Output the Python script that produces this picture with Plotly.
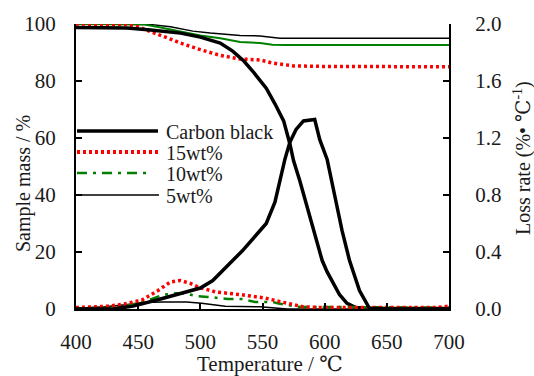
import plotly.graph_objects as go

# ---- data ----
cb_mass_T = [400, 420, 441, 460, 484, 500, 516, 526, 535, 542, 553, 560, 567, 572, 575, 580, 585, 590, 595, 598, 602, 606, 612, 618, 625, 640, 700]
cb_mass = [98.8, 98.6, 98.6, 97.9, 96.8, 95.4, 93.3, 90.5, 87, 83.5, 77.5, 72, 66, 58, 52, 45, 37, 29.5, 21, 17, 13, 10, 5, 2, 0.5, 0.2, 0.2]

cb_rate_T = [400, 430, 435, 446, 468, 484, 500, 510, 516, 526, 534, 540, 553, 560, 568, 572, 577, 583, 592, 596, 602, 608, 614, 620, 628, 636, 650, 700]
cb_rate = [0, 0, 0.007, 0.02, 0.07, 0.11, 0.147, 0.2, 0.25, 0.34, 0.41, 0.47, 0.6, 0.75, 1.05, 1.17, 1.26, 1.32, 1.33, 1.19, 1.05, 0.8, 0.55, 0.34, 0.13, 0.005, 0, 0]

w15_mass_T = [400, 440, 450, 460, 468, 476, 484, 500, 516, 532, 548, 558, 575, 600, 700]
w15_mass = [100, 99.8, 99, 97.5, 96, 94.7, 93.3, 91, 89, 87.7, 87.4, 86.3, 85.3, 85.1, 85]

w10_mass_T = [400, 455, 465, 476, 488, 500, 516, 532, 548, 558, 570, 700]
w10_mass = [100, 99.8, 99, 98, 97, 96, 95, 93.7, 93.3, 92.7, 92.6, 92.6]

w5_mass_T = [400, 460, 476, 494, 508, 532, 548, 558, 564, 700]
w5_mass = [100, 99.8, 99, 97.5, 96.8, 96, 95.8, 95.4, 95, 95]

w15_rate_T = [400, 426, 439, 453, 466, 476, 484, 492, 498, 512, 533, 552, 565, 575, 583, 600, 690, 700]
w15_rate = [0.01, 0.02, 0.035, 0.063, 0.13, 0.19, 0.2, 0.18, 0.155, 0.12, 0.1, 0.077, 0.05, 0.03, 0.015, 0.01, 0.01, 0.02]

w10_rate_T = [400, 435, 447, 461, 470, 480, 488, 497, 506, 522, 533, 544, 558, 562, 578, 700]
w10_rate = [0.005, 0.01, 0.035, 0.07, 0.1, 0.11, 0.11, 0.09, 0.085, 0.07, 0.07, 0.05, 0.05, 0.04, 0.015, 0.01]

w5_rate_T = [400, 423, 440, 453, 470, 489, 501, 510, 520, 548, 560, 570, 700]
w5_rate = [0.005, 0.015, 0.03, 0.045, 0.05, 0.05, 0.04, 0.03, 0.02, 0.015, 0.005, 0.0, 0.0]

legend_names = ["Carbon black", "15wt%", "10wt%", "5wt%"]
x_ticks = [400, 450, 500, 550, 600, 650, 700]

FONT = "Liberation Serif, Times New Roman, Times, DejaVu Serif, serif"
TXT = "#1a1a1a"
RED = "#ff0000"
GREEN = "#008000"

fig = go.Figure()

# rate curves (right axis)
fig.add_trace(go.Scatter(x=w5_rate_T, y=w5_rate, yaxis="y2", mode="lines",
                         line=dict(color="black", width=1.5), showlegend=False))
fig.add_trace(go.Scatter(x=w10_rate_T, y=w10_rate, yaxis="y2", mode="lines",
                         line=dict(color=GREEN, width=2.5, dash="10px,6px,3px,6px"), showlegend=False))
fig.add_trace(go.Scatter(x=w15_rate_T, y=w15_rate, yaxis="y2", mode="lines",
                         line=dict(color=RED, width=3.5, dash="3px,3px"), showlegend=False))
# mass curves (left axis)
fig.add_trace(go.Scatter(x=w5_mass_T, y=w5_mass, mode="lines",
                         line=dict(color="black", width=1.5), showlegend=False))
fig.add_trace(go.Scatter(x=w10_mass_T, y=w10_mass, mode="lines",
                         line=dict(color=GREEN, width=2), showlegend=False))
fig.add_trace(go.Scatter(x=w15_mass_T, y=w15_mass, mode="lines",
                         line=dict(color=RED, width=3.5, dash="3px,3px"), showlegend=False))
# carbon black
fig.add_trace(go.Scatter(x=cb_rate_T, y=cb_rate, yaxis="y2", mode="lines",
                         line=dict(color="black", width=3.5), showlegend=False))
fig.add_trace(go.Scatter(x=cb_mass_T, y=cb_mass, mode="lines",
                         line=dict(color="black", width=3.5), showlegend=False))

# plot area geometry
L, R, T, B = 76, 85, 24, 67
W, H = 534, 376
pw, ph = W - L - R, H - T - B

def px(xp):
    return (xp - L) / pw

def py(yp):
    return (H - B - yp) / ph

# manual legend
leg_styles = [
    dict(color="black", width=3.5),
    dict(color=RED, width=4, dash="3px,3px"),
    dict(color=GREEN, width=2.5, dash="10px,6px,3px,6px"),
    dict(color="black", width=1.5),
]
leg_y = [131, 152, 173, 195]
leg_x1 = [158, 160, 150, 159]
shapes = []
annotations = []
for name, st, yy, x1 in zip(legend_names, leg_styles, leg_y, leg_x1):
    shapes.append(dict(type="line", xref="paper", yref="paper",
                       x0=px(77), x1=px(x1), y0=py(yy), y1=py(yy), line=st))
    annotations.append(dict(text=name, xref="paper", yref="paper", x=px(164), y=py(yy + 1),
                            xanchor="left", yanchor="middle", showarrow=False,
                            font=dict(family=FONT, size=20, color=TXT)))

# axis titles
annotations.append(dict(text="Temperature / ℃", xref="paper", yref="paper",
                        x=px(270), y=py(364), xanchor="center", yanchor="middle", showarrow=False,
                        font=dict(family=FONT, size=21, color=TXT)))
annotations.append(dict(text="Sample mass / %", xref="paper", yref="paper",
                        x=px(23), y=py(183), xanchor="center", yanchor="middle", showarrow=False,
                        textangle=-90, font=dict(family=FONT, size=20, color=TXT)))
annotations.append(dict(text="Loss rate (%• ℃<sup>-1</sup>)", xref="paper", yref="paper",
                        x=px(522), y=py(158), xanchor="center", yanchor="middle", showarrow=False,
                        textangle=-90, font=dict(family=FONT, size=20, color=TXT)))

axis_common = dict(showline=True, linecolor="black", linewidth=2, ticks="inside",
                   ticklen=6, tickwidth=2, tickcolor="black", showgrid=False, zeroline=False,
                   tickfont=dict(family=FONT, size=21, color=TXT))

fig.update_layout(
    width=W, height=H,
    margin=dict(l=L, r=R, t=T, b=B, pad=0),
    paper_bgcolor="white", plot_bgcolor="white",
    font=dict(family=FONT, size=20, color=TXT),
    xaxis=dict(range=[400, 700], tickvals=x_ticks, ticklabelstandoff=13, **axis_common),
    yaxis=dict(range=[0, 100], dtick=20, ticklabelstandoff=14, **axis_common),
    yaxis2=dict(range=[0, 2], dtick=0.4, tickformat=".1f", overlaying="y", side="right",
                ticklabelstandoff=20, **axis_common),
    shapes=shapes,
    annotations=annotations,
    showlegend=False,
)

fig.write_html("out.html")
